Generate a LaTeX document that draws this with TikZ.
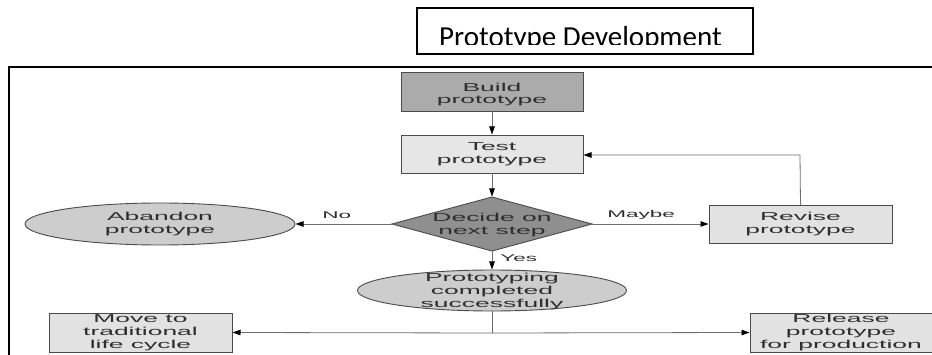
\documentclass[tikz,border=0pt]{standalone}
\usepackage{fontspec}
\usetikzlibrary{shapes.geometric,arrows.meta}
\newfontfamily\df[FakeStretch=2.3]{Liberation Sans}
\newfontfamily\tf{Carlito}
\definecolor{buildfill}{HTML}{ABABAB}
\definecolor{testfill}{HTML}{E6E6E6}
\definecolor{decfill}{HTML}{8F8F8F}
\definecolor{ellfill}{HTML}{CDCDCD}
\definecolor{boxfill}{HTML}{E2E2E2}
\definecolor{edgecol}{HTML}{4A4A4A}
\definecolor{linecol}{HTML}{6E6E6E}
\definecolor{txt}{HTML}{2E2E2E}
\begin{document}
\begin{tikzpicture}[x=1pt,y=-1pt,
  shp/.style={draw=edgecol, line width=0.9pt, inner sep=0pt, outer sep=0pt},
  rbox/.style={shp, rectangle},
  ebox/.style={shp, ellipse},
  dbox/.style={shp, diamond},
  every label/.style={align=center, font=\df\fontsize{11.5}{12.8}\selectfont, text=txt, inner sep=0pt},
  conn/.style={draw=linecol, line width=0.8pt},
  arr/.style={conn, -{Triangle[length=8pt,width=5.5pt,color=black]}, shorten >=0.5pt},
  lab/.style={font=\df\fontsize{9.8}{11}\selectfont, text=txt, inner sep=0pt}
]
\useasboundingbox (0,0) rectangle (932,355);
\fill[white] (0,0) rectangle (932,355);
% title
\begin{scope}
  \clip (417,8) rectangle (753,44.5);
  \node[anchor=base west, font=\tf\fontsize{29}{32}\selectfont, inner sep=0pt] (titletext) at (439,46.7) {Prototype Development};
\end{scope}
\node[draw=black, line width=1.2pt, minimum width=336pt, minimum height=46pt, inner sep=0pt] (titlebox) at (585,31) {};
% frame
\draw[black, line width=2pt] (9,360) -- (9,67) -- (940,67);
% nodes
\node[rbox, fill=buildfill, minimum width=182pt, minimum height=39pt, label={[yshift=-3pt]center:Build\\prototype}] (build) at (492,91.5) {};
\node[rbox, fill=testfill, minimum width=182pt, minimum height=38pt, label={center:Test\\prototype}] (test) at (492,154) {};
\node[dbox, fill=decfill, minimum width=200pt, minimum height=54pt, label={[yshift=-1pt]center:Decide on\\next step}] (dec) at (492,224) {};
\node[ebox, fill=ellfill, minimum width=270pt, minimum height=42pt, label={center:Abandon\\prototype}] (ab) at (160,224) {};
\node[rbox, fill=boxfill, minimum width=183pt, minimum height=38pt, label={center:Revise\\prototype}] (rev) at (800.5,224) {};
\node[ebox, fill=ellfill, minimum width=269pt, minimum height=41pt, label={[yshift=-1pt]center:Prototyping\\completed\\successfully}] (pc) at (492,290.5) {};
\node[rbox, fill=boxfill, minimum width=183pt, minimum height=39pt, label={center:Move to\\traditional\\life cycle}] (mv) at (140.5,332.5) {};
\node[rbox, fill=boxfill, minimum width=182pt, minimum height=39pt, label={center:Release\\prototype\\for production}] (rel) at (841,332.5) {};
\coordinate (j) at (492,333);
\coordinate (fb) at (800,155);
% connectors
\draw[arr] (build) -- (test);
\draw[arr] (test) -- (dec);
\draw[arr] (dec.west) -- node[lab, above=5pt, pos=0.57] (no) {No} (ab.east);
\draw[arr] (dec.east) -- node[lab, above=4pt, pos=0.42] (maybe) {Maybe} (rev.west);
\draw[arr] (rev.north) -- (fb) -- (test.east |- fb);
\draw[arr] (dec.south) -- node[lab, right=8pt, pos=0.4] (yes) {Yes} (pc.north);
\draw[conn] (pc.south) -- (j);
\draw[arr] (j) -- (mv.east);
\draw[arr] (j) -- (rel.west);
\end{tikzpicture}
\end{document}
